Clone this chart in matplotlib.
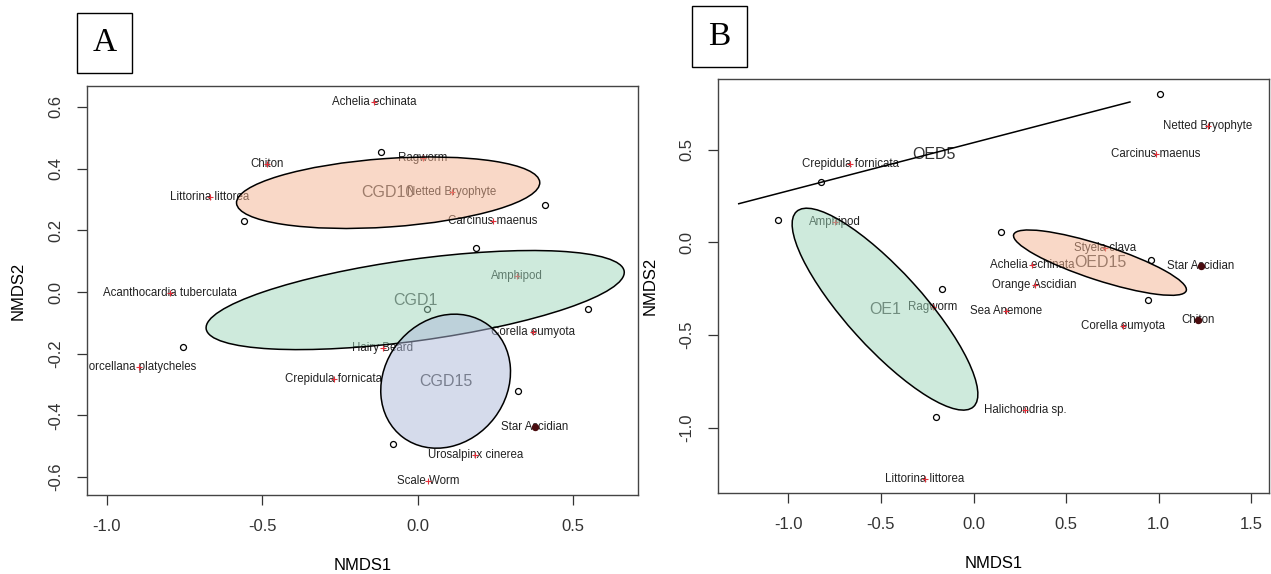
import numpy as np
import matplotlib.pyplot as plt
from matplotlib.patches import Ellipse, Rectangle

plt.rcParams['font.family'] = ['Liberation Sans', 'DejaVu Sans']

# ---- panel A data (NMDS scores) ----
siti_a_x = [-0.119, 0.411, -0.560, 0.187, 0.030, 0.547, -0.756, 0.322, -0.080]
siti_a_y = [0.454, 0.282, 0.230, 0.143, -0.055, -0.055, -0.178, -0.321, -0.492]

specie_a = ["Achelia echinata", "Ragworm", "Chiton", "Littorina littorea", "Netted Bryophyte",
            "Carcinus maenus", "Amphipod", "Acanthocardia tuberculata", "Corella eumyota",
            "Hairy Beard", "Porcellana platycheles", "Crepidula fornicata", "Star Ascidian",
            "Urosalpinx cinerea", "Scale Worm"]
specie_a_x = [-0.141, 0.016, -0.486, -0.669, 0.109, 0.241, 0.319, -0.798, 0.370,
              -0.113, -0.898, -0.270, 0.376, 0.186, 0.033]
specie_a_y = [0.616, 0.434, 0.414, 0.309, 0.324, 0.230, 0.052, -0.003, -0.130,
              -0.182, -0.244, -0.283, -0.437, -0.528, -0.612]
punti_scuri_a = [(0.376, -0.437)]

gruppi_a = ["CGD10", "CGD1", "CGD15"]
centri_a = [(-0.095, 0.322), (-0.008, -0.026), (0.090, -0.289)]
assi_a = [(0.489, 0.111), (0.679, 0.132), (0.228, 0.197)]   # semiassi
angoli_a = [4.0, 7.9, 53.0]
colori_a = ["#F5B391", "#9FD7BB", "#ADB9D9"]

# ---- panel B data ----
siti_b_x = [1.008, -0.822, -1.055, 0.147, 0.958, -0.170, 0.943, -0.205]
siti_b_y = [0.799, 0.324, 0.120, 0.054, -0.096, -0.254, -0.311, -0.944]

specie_b = ["Netted Bryophyte", "Carcinus maenus", "Crepidula fornicata", "Amphipod",
            "Styela clava", "Achelia echinata", "Orange Ascidian", "Ragworm", "Sea Anemone",
            "Corella eumyota", "Chiton", "Star Ascidian", "Halichondria sp.", "Littorina littorea"]
specie_b_x = [1.264, 0.986, -0.666, -0.750, 0.712, 0.318, 0.330, -0.221, 0.178,
              0.805, 1.213, 1.227, 0.280, -0.264]
specie_b_y = [0.626, 0.477, 0.424, 0.110, -0.032, -0.124, -0.230, -0.347, -0.371,
              -0.450, -0.419, -0.128, -0.905, -1.276]
punti_scuri_b = [(1.213, -0.419), (1.227, -0.128)]

gruppi_b = ["OE1", "OED15"]
centri_b = [(-0.478, -0.361), (0.683, -0.110)]
assi_b = [(0.711, 0.207), (0.490, 0.095)]
angoli_b = [-47.8, -18.0]
colori_b = ["#9FD7BB", "#F5B391"]

oed5_x = [-1.268, 0.845]
oed5_y = [0.208, 0.757]
oed5_label = (-0.213, 0.475)


def disegna(ax, sx, sy, nomi, px, py, scuri, gruppi, centri, assi, angoli, colori):
    ax.plot(sx, sy, 'o', mfc='none', mec='black', ms=4.3, mew=0.9, zorder=2)
    for n, x, y in zip(nomi, px, py):
        ax.text(x, y, n, ha='center', va='center', fontsize=8.3, color='#222222',
                clip_on=True, zorder=2)
    ax.plot(px, py, '+', color='#e3303a', ms=4, mew=0.8, zorder=2)
    for x, y in scuri:
        ax.plot(x, y, 'o', color='#4a0d10', ms=4.3, zorder=2)
    for g, c in zip(gruppi, centri):
        ax.text(c[0], c[1], g, ha='center', va='center', fontsize=11.5, color='#444444', zorder=2)
    for c, a, ang, col in zip(centri, assi, angoli, colori):
        rgb = plt.matplotlib.colors.to_rgb(col)
        ax.add_patch(Ellipse(c, 2 * a[0], 2 * a[1], angle=ang, facecolor=(*rgb, 0.5),
                             edgecolor='black', lw=1.1, zorder=3))


def stile(ax, xt, yt, ylab_x, xlab_y, fig):
    ax.set_xticks(xt)
    ax.set_yticks(yt)
    ax.set_xticklabels([f"{v:.1f}" for v in xt])
    ax.set_yticklabels([f"{v:.1f}" for v in yt], rotation=90, va='center')
    ax.tick_params(direction='out', length=7, width=0.9, colors='#333333', labelsize=12, pad=10)
    for s in ax.spines.values():
        s.set_color('#444444')
        s.set_linewidth(1.0)
    pos = ax.get_position()
    fig.text(ylab_x, (pos.y0 + pos.y1) / 2, "NMDS2", rotation=90, ha='center', va='center', fontsize=12)
    fig.text((pos.x0 + pos.x1) / 2, xlab_y, "NMDS1", ha='center', va='center', fontsize=12)


fig = plt.figure(figsize=(12.71, 5.74), dpi=100)
W, H = 1271, 574
axA = fig.add_axes([87 / W, 1 - 495 / H, 551 / W, 409 / H])
axB = fig.add_axes([718 / W, 1 - 493 / H, 551 / W, 414 / H])

disegna(axA, siti_a_x, siti_a_y, specie_a, specie_a_x, specie_a_y, punti_scuri_a,
        gruppi_a, centri_a, assi_a, angoli_a, colori_a)
axA.set_xlim(-1.064, 0.709)
axA.set_ylim(-0.658, 0.668)
stile(axA, [-1.0, -0.5, 0.0, 0.5], [-0.6, -0.4, -0.2, 0.0, 0.2, 0.4, 0.6], 18 / W, 1 - 565 / H, fig)

disegna(axB, siti_b_x, siti_b_y, specie_b, specie_b_x, specie_b_y, punti_scuri_b,
        gruppi_b, centri_b, assi_b, angoli_b, colori_b)
axB.plot(oed5_x, oed5_y, color='black', lw=1.1, zorder=3)
axB.text(oed5_label[0], oed5_label[1], "OED5", ha='center', va='center', fontsize=11.5,
         color='#333333', zorder=2)
axB.set_xlim(-1.380, 1.596)
axB.set_ylim(-1.353, 0.881)
stile(axB, [-1.0, -0.5, 0.0, 0.5, 1.0, 1.5], [-1.0, -0.5, 0.0, 0.5], 650 / W, 1 - 563 / H, fig)

# riquadri A / B
for lett, (x0, y0, x1, y1) in zip(["A", "B"], [(77, 13, 132, 73), (692, 6, 747, 67)]):
    fig.add_artist(Rectangle((x0 / W, 1 - y1 / H), (x1 - x0) / W, (y1 - y0) / H,
                             transform=fig.transFigure, fill=False, ec='black', lw=1.0))
    fig.text((x0 + x1) / 2 / W, 1 - (y0 + y1) / 2 / H, lett, ha='center', va='center',
             fontsize=24, family='Liberation Serif')

fig.savefig("out.png", dpi=100)
